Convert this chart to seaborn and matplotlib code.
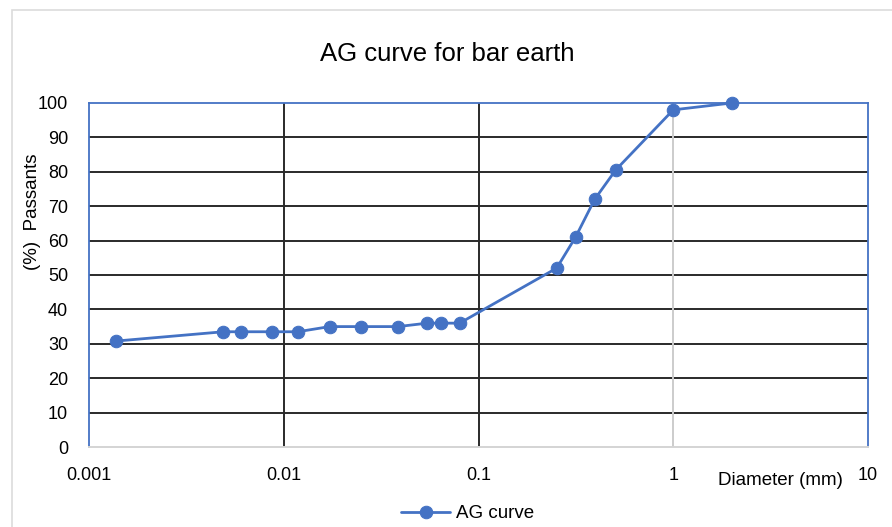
import numpy as np
import pandas as pd
import matplotlib
matplotlib.use("Agg")
import matplotlib.pyplot as plt
from matplotlib.patches import Rectangle
import seaborn as sns

# grain size distribution
diameter_mm = [0.00138, 0.0049, 0.006, 0.0087, 0.0118, 0.0172, 0.025, 0.0386,
               0.0545, 0.0643, 0.080, 0.252, 0.315, 0.395, 0.506, 1.0, 2.0]
passing_pct = [30.8, 33.5, 33.5, 33.5, 33.5, 35, 35, 35,
               36, 36, 36, 52, 61, 72, 80.5, 98, 100]
x_ticks = [0.001, 0.01, 0.1, 1, 10]
x_tick_labels = ["0.001", "0.01", "0.1", "1", "10"]
y_ticks = list(range(0, 101, 10))

df = pd.DataFrame({"diameter": diameter_mm, "passing": passing_pct})

sns.set_style("white")
plt.rcParams['font.family'] = ['Liberation Sans', 'DejaVu Sans']
plt.rcParams['text.color'] = 'black'

blue = "#4472C4"
fig = plt.figure(figsize=(8.92, 5.27), dpi=100)
ax = fig.add_axes([0.0998, 0.1518, 0.8733, 0.6528])

# faint chart-area border (left and top visible)
fig.patches.append(Rectangle((12 / 892, -0.05), 1.0, 1.05 - 10 / 527, transform=fig.transFigure,
                             fill=False, edgecolor="#dcdcdc", linewidth=1.2, zorder=0))

sns.lineplot(data=df, x="diameter", y="passing", ax=ax, color=blue, linewidth=2.0,
             marker="o", markersize=9, markeredgecolor=blue, label="AG curve",
             sort=False, zorder=5, clip_on=False)

ax.set_xscale("log")
ax.set_xlim(0.001, 10)
ax.set_ylim(0, 100)
ax.set_xticks(x_ticks)
ax.set_xticklabels(x_tick_labels)
ax.set_yticks(y_ticks)
ax.minorticks_off()
ax.tick_params(axis="both", length=0, labelsize=13, colors="black")
ax.tick_params(axis="x", pad=14.5)
ax.tick_params(axis="y", pad=15)

# gridlines
for yv in y_ticks[1:-1]:
    ax.axhline(yv, color="#2a2a2a", linewidth=1.4, zorder=1)
for xv in [0.01, 0.1]:
    ax.axvline(xv, color="#2a2a2a", linewidth=1.4, zorder=1)
ax.axvline(1, color="#cccccc", linewidth=1.4, zorder=1)

for side in ["left", "top", "right"]:
    ax.spines[side].set_color(blue)
    ax.spines[side].set_linewidth(1.3)
ax.spines["bottom"].set_color("#d4d4d4")
ax.spines["bottom"].set_linewidth(1.4)

fig.text(0.501, 0.884, "AG curve for bar earth", fontsize=18.5, ha="center",
         va="baseline", color="black")
ax.set_ylabel("(%)  Passants", fontsize=13.5, color="black")
ax.yaxis.set_label_coords(-0.062, 0.683)
ax.set_xlabel("")
ax.text(0.888, -0.096, "Diameter (mm)", transform=ax.transAxes, fontsize=13.5,
        ha="center", va="center")

ax.legend(loc="center", bbox_to_anchor=(0.486, -0.194), frameon=False, fontsize=13.5,
          handlelength=2.6, handletextpad=0.3)

fig.savefig("out.png", dpi=100)
